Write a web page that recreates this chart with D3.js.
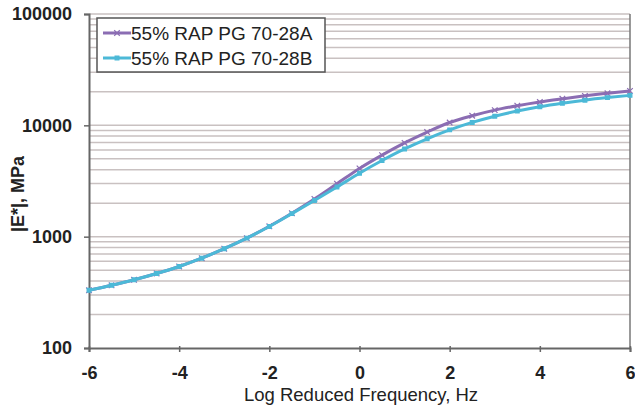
<!DOCTYPE html>
<html lang="en">
<head>
  <meta charset="UTF-8">
  <title>|E*| master curves</title>
  <style>
    body { margin: 0; background: #fff; }
    text { font-family: "Liberation Sans", Arial, sans-serif; fill: #222; }
  </style>
</head>
<body>
  <svg id="svg" width="635" height="410"></svg>

  <script src="https://d3js.org/d3.v7.min.js"></script>
  <script>
    // log reduced frequency, Hz
    const logFreq = [-6, -5.5, -5, -4.5, -4, -3.5, -3, -2.5, -2, -1.5, -1, -0.5, 0,
      0.5, 1, 1.5, 2, 2.5, 3, 3.5, 4, 4.5, 5, 5.5, 6]
    // |E*| in MPa
    const modA = [330, 366, 410, 467, 540, 641, 780, 970, 1240, 1625, 2180, 2990, 4100,
      5400, 6950, 8700, 10600, 12200, 13700, 15000, 16200, 17300, 18400, 19400, 20400]
    const modB = [330, 366, 410, 467, 540, 641, 780, 970, 1235, 1610, 2110, 2790, 3715,
      4830, 6140, 7570, 9100, 10620, 12080, 13430, 14690, 15810, 16830, 17740, 18580]
    const seriesNames = ['55% RAP PG 70-28A', '55% RAP PG 70-28B']
    const xTicks = [-6, -4, -2, 0, 2, 4, 6]
    const yTicks = [100, 1000, 10000, 100000]

    const colors = ['#8b6db3', '#4cb9d7']
    const series = [modA, modB].map((vals, i) => ({
      name: seriesNames[i],
      color: colors[i],
      points: logFreq.map((f, j) => ({ x: f, y: vals[j] }))
    }))

    const plotL = 89, plotR = 630, plotT = 14, plotB = 348
    const svg = d3.select('#svg')

    const xScale = d3.scaleLinear().domain([-6, 6]).range([plotL, plotR])
    const yScale = d3.scaleLog().domain([100, 100000]).range([plotB, plotT])

    // horizontal grid at every minor log value
    const gridVals = []
    for (let d = 100; d < 100000; d *= 10) {
      for (let k = 2; k <= 10; k++) gridVals.push(d * k)
    }
    svg.append('g')
      .selectAll('line')
      .data(gridVals)
      .enter()
      .append('line')
      .attr('x1', plotL)
      .attr('x2', plotR)
      .attr('y1', d => yScale(d))
      .attr('y2', d => yScale(d))
      .attr('stroke', '#c9c1c1')
      .attr('stroke-width', 1.5)

    // right border of plot area
    svg.append('line')
      .attr('x1', plotR).attr('x2', plotR)
      .attr('y1', plotT).attr('y2', plotB)
      .attr('stroke', '#777').attr('stroke-width', 1.5)

    // axes
    const xAxis = svg.append('g')
      .attr('transform', `translate(0,${plotB})`)
      .call(d3.axisBottom(xScale).tickValues(xTicks).tickSize(4).tickPadding(14).tickFormat(d => String(d)))
    const yAxis = svg.append('g')
      .attr('transform', `translate(${plotL},0)`)
      .call(d3.axisLeft(yScale).tickValues(yTicks).tickSize(5).tickPadding(12).tickFormat(d => String(d)))

    ;[xAxis, yAxis].forEach(g => {
      g.select('.domain').attr('stroke', '#666').attr('stroke-width', 2)
      g.selectAll('.tick line').attr('stroke', '#666').attr('stroke-width', 1.5)
      g.selectAll('.tick text')
        .style('font-family', '"Liberation Sans", Arial, sans-serif')
        .style('font-size', '18px')
        .style('font-weight', 'bold')
        .attr('fill', '#222')
    })
    xAxis.selectAll('.tick line').attr('y1', -2)

    // curves
    const line = d3.line()
      .x(d => xScale(d.x))
      .y(d => yScale(d.y))
      .curve(d3.curveMonotoneX)

    const symA = d3.symbol().type(d3.symbolX).size(22)
    const symB = d3.symbol().type(d3.symbolSquare).size(14)

    series.forEach((s, i) => {
      const g = svg.append('g')
      g.append('path')
        .datum(s.points)
        .attr('d', line)
        .attr('fill', 'none')
        .attr('stroke', s.color)
        .attr('stroke-width', 3)
      g.selectAll('path.mk')
        .data(s.points)
        .enter()
        .append('path')
        .attr('class', 'mk')
        .attr('transform', d => `translate(${xScale(d.x)},${yScale(d.y)})`)
        .attr('d', i === 0 ? symA : symB)
        .attr('fill', s.color)
        .attr('stroke', s.color)
        .attr('stroke-width', 1.2)
    })

    // legend
    const legend = svg.append('g').attr('transform', 'translate(97,18)')
    legend.append('rect')
      .attr('width', 228).attr('height', 54)
      .attr('fill', '#fff').attr('stroke', '#555').attr('stroke-width', 1.5)
    series.forEach((s, i) => {
      const row = legend.append('g').attr('transform', `translate(0,${15 + i * 25})`)
      row.append('line')
        .attr('x1', 6).attr('x2', 34)
        .attr('stroke', s.color).attr('stroke-width', 3)
      row.append('path')
        .attr('transform', 'translate(20,0)')
        .attr('d', i === 0 ? symA : symB)
        .attr('fill', s.color).attr('stroke', s.color).attr('stroke-width', 1.2)
      row.append('text')
        .attr('x', 34).attr('y', 7)
        .style('font-size', '19px')
        .text(s.name)
    })

    // axis titles
    svg.append('text')
      .attr('x', 361).attr('y', 401)
      .attr('text-anchor', 'middle')
      .style('font-size', '18.5px')
      .text('Log Reduced Frequency, Hz')
    svg.append('text')
      .attr('transform', 'translate(24,194) rotate(-90)')
      .attr('text-anchor', 'middle')
      .style('font-size', '18px')
      .style('font-weight', 'bold')
      .text('|E*|, MPa')
  </script>
</body>
</html>
